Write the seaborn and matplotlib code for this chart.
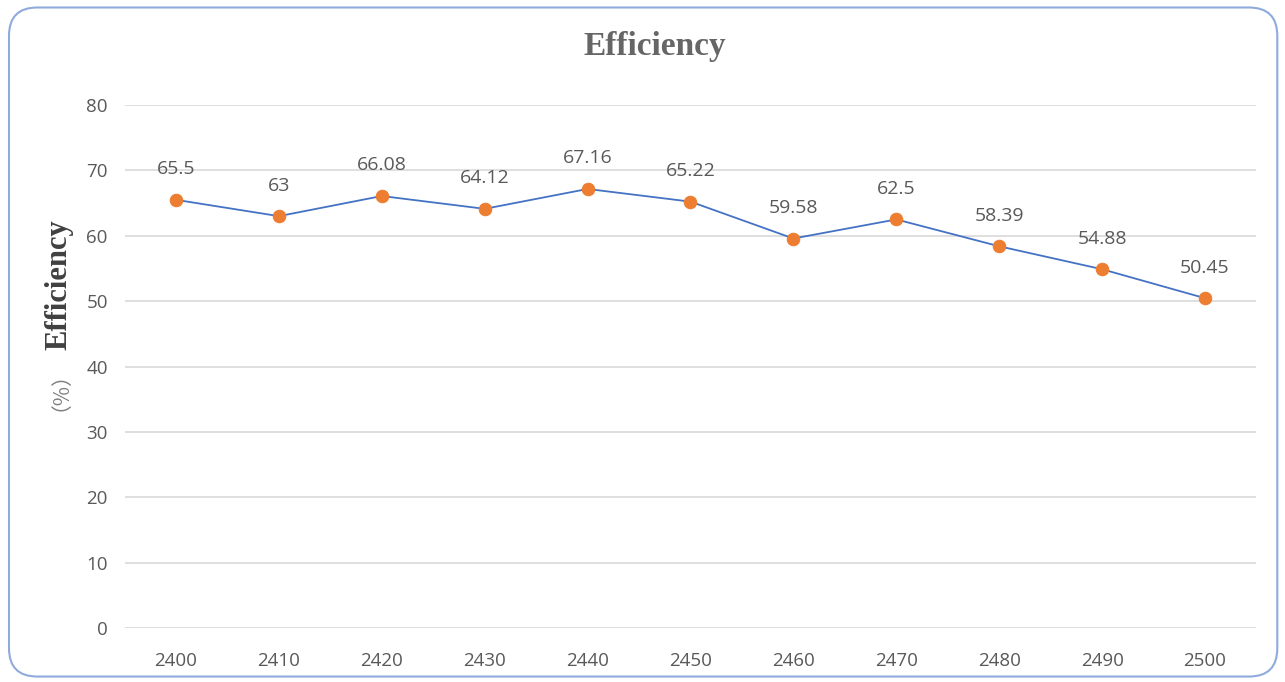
import matplotlib
matplotlib.use("Agg")
import matplotlib.pyplot as plt
import seaborn as sns
import pandas as pd
from matplotlib.patches import FancyBboxPatch

categories = [2400, 2410, 2420, 2430, 2440, 2450, 2460, 2470, 2480, 2490, 2500]
efficiency = [65.5, 63, 66.08, 64.12, 67.16, 65.22, 59.58, 62.5, 58.39, 54.88, 50.45]
labels = ["65.5", "63", "66.08", "64.12", "67.16", "65.22", "59.58", "62.5", "58.39", "54.88", "50.45"]
yticks = [0, 10, 20, 30, 40, 50, 60, 70, 80]

df = pd.DataFrame({"x": categories, "y": efficiency})

sns.set_theme(style="white")
plt.rcParams['font.family'] = ['Open Sans', 'DejaVu Sans']

W, H = 1285, 682
fig = plt.figure(figsize=(W / 100, H / 100), dpi=100)
ax = fig.add_axes([0.0969, 0.0792, 0.8809, 0.7668])

sns.lineplot(data=df, x="x", y="y", ax=ax, color="#4472C4", linewidth=1.3,
             marker="o", markersize=9, markerfacecolor="#ED7D31",
             markeredgecolor="#ED7D31")

for xv, yv, lab in zip(categories, efficiency, labels):
    ax.annotate(lab, (xv, yv), xytext=(0, 22), textcoords="offset points",
                ha="center", va="center", fontsize=14, color="#595959")

ax.set_xlim(2395, 2505)
ax.set_ylim(0, 80)
ax.set_xticks(categories)
ax.set_xticklabels([str(c) for c in categories])
ax.set_yticks(yticks)
ax.tick_params(axis="x", length=0, labelsize=13.5, labelcolor="#595959", pad=17)
ax.tick_params(axis="y", length=0, labelsize=13.5, labelcolor="#595959", pad=12)
ax.grid(axis="y", color="#D9D9D9", linewidth=1.2)
for s in ax.spines.values():
    s.set_visible(False)
ax.set_xlabel("")
ax.set_ylabel("")

# y-axis title: "（%）Efficiency" read bottom-to-top
fig.text(59 / W, 1 - 285 / H, "Efficiency", rotation=90, ha="center", va="center",
         fontsize=22, fontweight="bold", color="#404040", family=["Liberation Serif"])
fig.text(50 / W, 1 - 381 / H, "（%）", rotation=90, ha="center", va="center",
         fontsize=15, color="#7F7F7F", family=["Noto Sans CJK JP", "DejaVu Sans"])

fig.text(655 / W, 1 - 47 / H, "Efficiency", ha="center", va="center", fontsize=24,
         fontweight="bold", color="#666666", family=["Liberation Serif"])

border = FancyBboxPatch((0.007, 0.008), 0.987, 0.981,
                        boxstyle="round,pad=0,rounding_size=0.022",
                        transform=fig.transFigure, facecolor="none",
                        edgecolor="#8FAADC", linewidth=1.5, mutation_aspect=W / H)
fig.patches.append(border)

fig.savefig("out.png", dpi=100)
